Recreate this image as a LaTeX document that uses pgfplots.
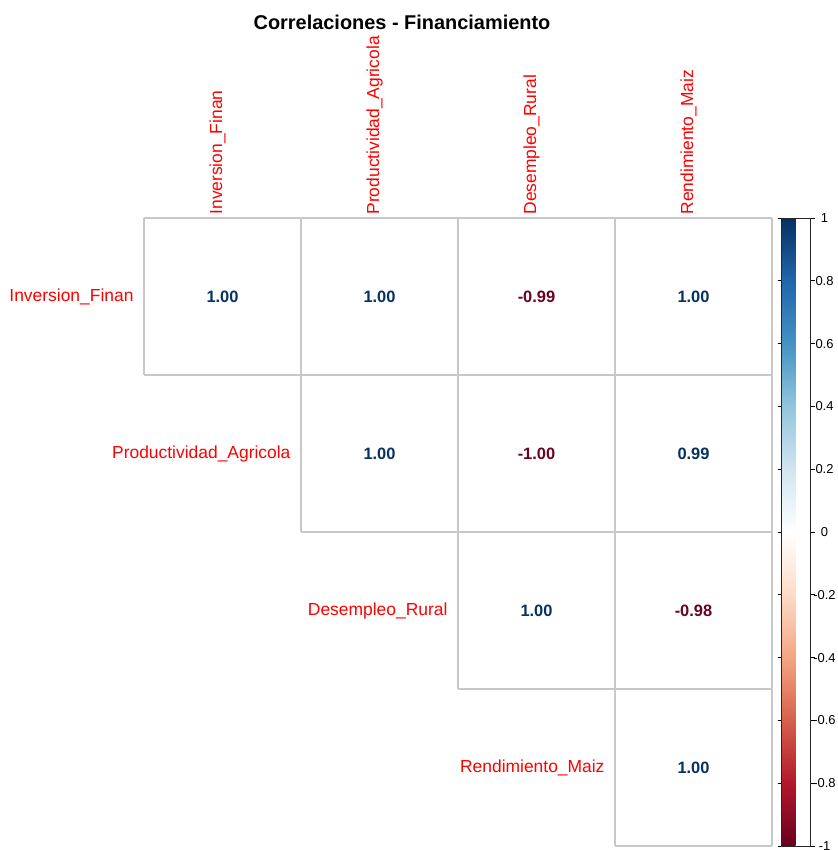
\documentclass[border=0pt]{standalone}
\usepackage{fontspec}
\setmainfont{Liberation Sans}
\usepackage{pgfplots}
\usepackage{pgfplotstable}
\pgfplotsset{compat=1.18}

% upper triangle of the correlation matrix: column centre, row centre, r
\pgfplotstableread{
x   y   r
0.5 0.5 1.00
1.5 0.5 1.00
2.5 0.5 -0.99
3.5 0.5 1.00
1.5 1.5 1.00
2.5 1.5 -1.00
3.5 1.5 0.99
2.5 2.5 1.00
3.5 2.5 -0.98
3.5 3.5 1.00
}\corrtable

\definecolor{gridgray}{RGB}{200,200,200}
\definecolor{corrpos}{RGB}{6,49,99}
\definecolor{corrneg}{RGB}{107,2,32}

\begin{document}
\begin{tikzpicture}
\useasboundingbox (0,0) rectangle (838bp,850bp);
\begin{axis}[
  at={(144bp,4bp)}, anchor=south west,
  scale only axis, width=628bp, height=628bp,
  xmin=0, xmax=4, ymin=0, ymax=4, y dir=reverse,
  axis line style={draw=none}, xtick=\empty, ytick=\empty,
  clip=false,
  colormap={RdBu}{rgb255=(103,0,31) rgb255=(178,24,43) rgb255=(214,96,77)
    rgb255=(244,165,130) rgb255=(253,219,199) rgb255=(255,255,255)
    rgb255=(209,229,240) rgb255=(146,197,222) rgb255=(67,147,195)
    rgb255=(33,102,172) rgb255=(5,48,97)},
  point meta min=-1, point meta max=1,
  colorbar,
  colorbar style={
    at={(parent axis.north east)}, anchor=north west, xshift=1bp,
    width=29bp,
    ytick={-1,-0.8,-0.6,-0.4,-0.2,0,0.2,0.4,0.6,0.8,1},
    tick align=outside, major tick length=4bp,
    tick style={black, line width=0.6bp},
    axis line style={black!85, line width=0.6bp},
    yticklabel style={font=\fontsize{13}{15}\selectfont, anchor=center, xshift=10bp},
    /pgf/number format/assume math mode=true,
  },
]
% cell borders of the upper triangle
\draw[gridgray, line width=1.2bp]
  (axis cs:0,0) -- (axis cs:4,0)
  (axis cs:0,1) -- (axis cs:4,1)
  (axis cs:1,2) -- (axis cs:4,2)
  (axis cs:2,3) -- (axis cs:4,3)
  (axis cs:3,4) -- (axis cs:4,4)
  (axis cs:0,0) -- (axis cs:0,1)
  (axis cs:1,0) -- (axis cs:1,2)
  (axis cs:2,0) -- (axis cs:2,3)
  (axis cs:3,0) -- (axis cs:3,4)
  (axis cs:4,0) -- (axis cs:4,4);

% coefficients: dark blue for positive, dark red for negative
\addplot[only marks, mark=none, point meta=explicit,
  nodes near coords={%
    \pgfmathfloatgetflagstomacro{\pgfplotspointmeta}{\metaflag}%
    \ifnum\metaflag=2 \color{corrneg}\else\color{corrpos}\fi
    \pgfmathprintnumber[fixed,fixed zerofill,precision=2,assume math mode=true]{\pgfplotspointmeta}},
  every node near coord/.append style={font=\fontsize{16.5}{19}\selectfont\bfseries,
    anchor=center}]
  table[x=x, y=y, meta=r] {\corrtable};

% variable names
\begin{scope}[every node/.style={text=red, font=\fontsize{17.5}{20}\selectfont}]
\node[anchor=east] at (axis cs:0,0.5) [xshift=-7bp] {Inversion\_Finan};
\node[anchor=east] at (axis cs:1,1.5) [xshift=-7bp] {Productividad\_Agricola};
\node[anchor=east] at (axis cs:2,2.5) [xshift=-7bp] {Desempleo\_Rural};
\node[anchor=east] at (axis cs:3,3.5) [xshift=-7bp] {Rendimiento\_Maiz};
\node[anchor=west, rotate=90] at (axis cs:0.5,0) [yshift=5bp] {Inversion\_Finan};
\node[anchor=west, rotate=90] at (axis cs:1.5,0) [yshift=5bp] {Productividad\_Agricola};
\node[anchor=west, rotate=90] at (axis cs:2.5,0) [yshift=5bp] {Desempleo\_Rural};
\node[anchor=west, rotate=90] at (axis cs:3.5,0) [yshift=5bp] {Rendimiento\_Maiz};
\end{scope}
\end{axis}
\node[font=\fontsize{20}{24}\selectfont\bfseries] at (402bp,828bp) {Correlaciones - Financiamiento};
\end{tikzpicture}
\end{document}
